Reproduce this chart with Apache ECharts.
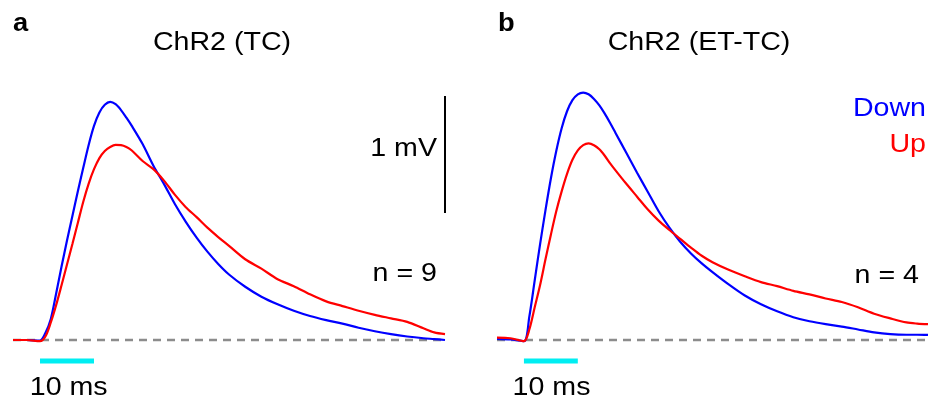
<!DOCTYPE html>
<html>
<head>
<meta charset="utf-8">
<script src="https://cdn.jsdelivr.net/npm/echarts@6/dist/echarts.min.js"></script>
<style>
  html, body { margin: 0; padding: 0; background: #fff; }
  #chart { width: 930px; height: 403px; }
</style>
</head>
<body>
<div id="chart"></div>
<script>
// Sample times (ms from start of sweep); light pulse 5–15 ms
var timeMs = [0, 2.5, 5, 6, 7, 8, 9, 10, 11, 12, 13, 14, 15, 16, 17, 18, 19, 20, 21, 22,
  24, 26, 28, 30, 32, 34, 36, 38, 40, 43, 46, 49, 52, 55, 58, 61, 64, 67, 70, 73, 76, 78, 80];

// Panel a: ChR2 (TC), mean EPSP (mV)
var tcDown = [0, 0, -0.005, 0.06, 0.18, 0.40, 0.63, 0.85, 1.06, 1.27, 1.47, 1.665, 1.83, 1.945, 2.01, 2.035, 2.015, 1.965, 1.9, 1.83,
  1.675, 1.49, 1.33, 1.16, 1.01, 0.875, 0.755, 0.65, 0.56, 0.455, 0.37, 0.305, 0.25, 0.205, 0.17, 0.14, 0.105, 0.075, 0.05, 0.03, 0.015, 0.008, 0];
var tcUp = [0, 0, -0.01, 0.03, 0.15, 0.30, 0.47, 0.645, 0.82, 1.0, 1.18, 1.335, 1.46, 1.555, 1.615, 1.65, 1.668, 1.666, 1.65, 1.62,
  1.53, 1.46, 1.36, 1.24, 1.135, 1.05, 0.96, 0.88, 0.805, 0.69, 0.61, 0.52, 0.46, 0.39, 0.33, 0.29, 0.25, 0.215, 0.185, 0.155, 0.10, 0.065, 0.05];

// Panel b: ChR2 (ET-TC), mean EPSP (mV)
var ettcDown = [0.01, 0.005, -0.01, 0.2, 0.51, 0.82, 1.11, 1.38, 1.615, 1.81, 1.955, 2.05, 2.10, 2.115, 2.10, 2.06, 2.005, 1.935, 1.855, 1.77,
  1.60, 1.43, 1.265, 1.10, 0.96, 0.84, 0.74, 0.655, 0.58, 0.475, 0.38, 0.305, 0.245, 0.195, 0.16, 0.135, 0.115, 0.09, 0.065, 0.05, 0.045, 0.045, 0.043];
var ettcUp = [0.02, 0.015, -0.01, 0.09, 0.28, 0.47, 0.69, 0.90, 1.10, 1.27, 1.42, 1.54, 1.62, 1.665, 1.68, 1.665, 1.63, 1.575, 1.51, 1.45,
  1.335, 1.225, 1.115, 1.02, 0.94, 0.865, 0.79, 0.72, 0.665, 0.60, 0.545, 0.495, 0.46, 0.42, 0.39, 0.355, 0.325, 0.28, 0.225, 0.185, 0.15, 0.14, 0.135];

var panelTitles = ['ChR2 (TC)', 'ChR2 (ET-TC)'];
var panelLetters = ['a', 'b'];
var cellCounts = ['n = 9', 'n = 4'];
var legendNames = ['Down', 'Up'];
var stimWindow = [5, 15];          // ms, light pulse (also the 10 ms time scale)
var scaleBarMv = [1.085, 2.085];   // 1 mV vertical scale bar
var sweepRange = [0, 80];

var BLUE = '#0000ff', RED = '#ff0000', CYAN = '#00eef2', GREY = '#8c8c8c';
var FONT = '"Liberation Sans", Arial, Helvetica, sans-serif';
var STIM_Y = -0.18;

function zip(t, v) { return t.map(function (x, i) { return [x, v[i]]; }); }

var chart = echarts.init(document.getElementById('chart'), null, { renderer: 'canvas' });

var grids = [
  { left: 13, top: 47.5, width: 432, height: 351 },
  { left: 497, top: 47.5, width: 431, height: 351 }
];
var xAxes = [0, 1].map(function (i) {
  return { type: 'value', gridIndex: i, min: sweepRange[0], max: sweepRange[1], show: false };
});
var yAxes = [0, 1].map(function (i) {
  return { type: 'value', gridIndex: i, min: -0.5, max: 2.5, show: false };
});

function trace(i, values, color, z) {
  return {
    type: 'line', xAxisIndex: i, yAxisIndex: i, data: zip(timeMs, values),
    showSymbol: false, smooth: 0.3, z: z, silent: true,
    lineStyle: { color: color, width: 2.2 }
  };
}
function baseline(i) {
  return {
    type: 'line', xAxisIndex: i, yAxisIndex: i, z: 1, silent: true, showSymbol: false,
    data: [[sweepRange[0], 0], [sweepRange[1], 0]],
    lineStyle: { color: GREY, width: 2.5, type: [8, 6] }
  };
}
function stimBar(i) {
  return {
    type: 'line', xAxisIndex: i, yAxisIndex: i, z: 2, silent: true, showSymbol: false,
    data: [[stimWindow[0], STIM_Y], [stimWindow[1], STIM_Y]],
    lineStyle: { color: CYAN, width: 5, cap: 'butt' }
  };
}

var series = [
  baseline(0), stimBar(0), trace(0, tcDown, BLUE, 3), trace(0, tcUp, RED, 4),
  baseline(1), stimBar(1), trace(1, ettcDown, BLUE, 3), trace(1, ettcUp, RED, 4),
  {
    type: 'line', xAxisIndex: 0, yAxisIndex: 0, z: 5, silent: true, showSymbol: false,
    data: [[sweepRange[1], scaleBarMv[0]], [sweepRange[1], scaleBarMv[1]]],
    lineStyle: { color: '#000', width: 2 }
  }
];

function label(text, x, y, opts) {
  opts = opts || {};
  return {
    type: 'text', x: x, y: y, scaleX: opts.sx || 1.1, silent: true,
    style: {
      text: text, fill: opts.color || '#000',
      font: (opts.bold ? 'bold ' : '') + (opts.size || 26) + 'px ' + FONT,
      align: opts.align || 'center', verticalAlign: 'middle'
    }
  };
}

var graphics = [
  label(panelLetters[0], 13, 23.6, { bold: true, align: 'left', sx: 1.05 }),
  label(panelLetters[1], 498, 24, { bold: true, align: 'left', sx: 1.05 }),
  label(panelTitles[0], 222, 42.6),
  label(panelTitles[1], 699, 42.6),
  label('1 mV', 437, 148.6, { align: 'right' }),
  label(cellCounts[0], 437, 274.2, { align: 'right' }),
  label(cellCounts[1], 919, 276, { align: 'right' }),
  label('10 ms', 68.7, 387.6),
  label('10 ms', 551.5, 387.6),
  label(legendNames[0], 926, 109.2, { align: 'right', color: BLUE }),
  label(legendNames[1], 926, 145, { align: 'right', color: RED })
];

chart.setOption({
  animation: false,
  backgroundColor: '#fff',
  grid: grids,
  xAxis: xAxes,
  yAxis: yAxes,
  series: series,
  graphic: graphics
});
</script>
</body>
</html>
